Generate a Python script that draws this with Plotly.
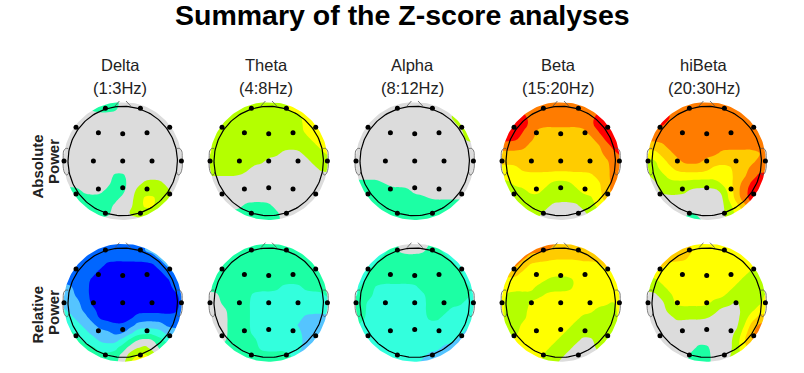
import math
import plotly.graph_objects as go

# Level index: 0 dark blue ... 5 grey (non significant) ... 10 red
level_colors = ["#0000ff", "#0066ff", "#55c4ff", "#33ffdd", "#1cffa4", "#dcdcdc",
                "#b4ff00", "#ffff00", "#ffcc00", "#ff7c00", "#ff0000"]
bands = ["Delta", "Theta", "Alpha", "Beta", "hiBeta"]
band_ranges = ["(1:3Hz)", "(4:8Hz)", "(8:12Hz)", "(15:20Hz)", "(20:30Hz)"]
row_names = [["Absolute", "Power"], ["Relative", "Power"]]
title_text = "Summary of the Z-score analyses"

grid_pos = [-60.0, -52.5, -45.0, -37.5, -30.0, -22.5, -15.0, -7.5, 0.0, 7.5, 15.0, 22.5, 30.0, 37.5, 45.0, 52.5, 60.0]

electrode_x = [-17.3, 17.7, -46.7, -24.3, 0, 24.3, 47, -58.7, -29.3, 0, 29.3, 58.7, -46.7, -24.3, 0, 24.3, 47, -17.3, 17.7]
electrode_y = [-52.7, -52.7, -33.7, -28.3, -27.3, -28.3, -33.7, 0, 0, 0, 0, 0, 33, 28, 26.7, 28, 33, 52.3, 52.3]

ear_x = [-54.5, -57, -59, -59.5, -59.5, -58, -56, -54.5, -54]
ear_y = [-12.5, -12.5, -10, -4, 6, 12, 14, 13, 11]
nose_left_x = [-7.7, -3.3]
nose_right_x = [8, 3.3]
nose_y = [-55, -60]

abs_delta = [
 [5,5,5,5,4,4,4,4,5,5,5,5,5,5,5,5,5],
 [5,5,5,5,4,4,4,4,5,5,5,5,5,5,5,5,5],
 [5,5,5,5,5,5,5,5,5,5,5,5,5,5,5,5,5],
 [5,5,5,5,5,5,5,5,5,5,5,5,5,5,5,5,5],
 [5,5,5,5,5,5,5,5,5,5,5,5,5,5,5,5,5],
 [5,5,5,5,5,5,5,5,5,5,5,5,5,5,5,5,5],
 [5,5,5,5,5,5,5,5,5,5,5,5,5,5,5,5,5],
 [5,5,5,5,5,5,5,5,5,5,5,5,5,5,5,5,5],
 [5,5,5,5,5,5,5,5,5,5,5,5,5,5,5,5,5],
 [5,5,5,5,5,5,5,5,5,5,5,5,5,5,5,5,5],
 [5,5,5,5,5,5,5,4,4,5,5,5,5,5,5,5,5],
 [5,5,5,5,5,5,5,4,4,5,5,6,6,6,5,5,5],
 [4,4,4,5,5,5,4,4,4,5,6,6,6,6,6,5,5],
 [4,4,4,4,4,4,4,4,5,5,6,7,7,6,6,5,5],
 [5,4,4,4,4,4,4,5,5,5,6,7,7,6,5,5,5],
 [5,5,5,5,4,4,4,5,5,6,6,6,6,5,5,5,5],
 [5,5,5,5,5,5,5,5,5,5,5,5,5,5,5,5,5],
]
abs_theta = [
 [6,6,6,6,6,6,6,6,6,6,6,7,7,7,7,7,7],
 [6,6,6,6,6,6,6,6,6,6,6,7,7,7,7,7,7],
 [6,6,6,6,6,6,6,6,6,6,6,6,6,7,7,7,7],
 [6,6,6,6,6,6,6,6,6,6,6,6,6,7,7,7,7],
 [6,6,6,6,6,6,6,6,6,6,6,6,6,7,7,7,7],
 [6,6,6,6,6,6,6,6,6,6,6,6,6,6,7,7,7],
 [7,6,6,6,6,6,6,6,6,6,6,6,6,6,6,7,7],
 [7,6,6,6,6,6,6,6,6,6,5,5,5,6,6,6,7],
 [6,6,6,6,6,6,6,6,5,5,5,5,5,5,6,6,6],
 [6,6,6,6,6,6,5,5,5,5,5,5,5,5,5,6,6],
 [5.5,5.5,5.5,5.5,5.5,5,5,5,5,5,5,5,5,5,5,5,5],
 [5,5,5,5,5,5,5,5,5,5,5,5,5,5,5,5,5],
 [5,5,5,5,5,5,5,5,5,5,5,5,5,5,5,5,5],
 [5,5,5,5,5,5,5,5,5,5,5,5,5,5,5,5,5],
 [5,5,5,5,5,4,4,4,4,5,5,5,5,5,5,5,5],
 [5,5,5,4,4,4,4,4,4,4,5,5,5,5,5,5,5],
 [5,5,5,4,4,4,4,4,4,4,5,5,5,5,5,5,5],
]
abs_alpha = [
 [5,5,5,5,5,5,5,5,5,5,5,5,5,5,5,5,5],
 [5,5,5,5,5,5,5,5,5,5,5,5,5,5,5,5,5],
 [5,5,5,5,5,5,5,5,5,5,5,5,5,6,6,6,5],
 [5,5,5,5,5,5,5,5,5,5,5,5,5,5,6,6,6],
 [5,5,5,5,5,5,5,5,5,5,5,5,5,5,5,6,6],
 [5,5,5,5,5,5,5,5,5,5,5,5,5,5,5,6,6],
 [5,5,5,5,5,5,5,5,5,5,5,5,5,5,5,5,5],
 [5,5,5,5,5,5,5,5,5,5,5,5,5,5,5,5,5],
 [5,5,5,5,5,5,5,5,5,5,5,5,5,5,5,5,5],
 [5,5,5,5,5,5,5,5,5,5,5,5,5,5,5,5,5],
 [5,5,5,5,5,5,5,5,5,5,5,5,5,5,5,5,5],
 [4,4,4,4,4.5,5,5,5,5,5,5,5,5,5,5,5,5],
 [4,4,4,4,4,4,4,4,5,5,5,5,5,5,5,5,5],
 [4,4,4,4,4,4,4,4,4,4,4.6,4.6,4.6,4.6,4.6,4.6,4.6],
 [4,4,4,4,4,4,4,4,4,4,4,4,4,4,4,4,4],
 [4,4,4,4,4,4,4,4,4,4,4,4,4,4,4,4,4],
 [4,4,4,4,4,4,4,4,4,4,4,4,4,4,4,4,4],
]
abs_beta = [
 [9,9,9,9,9,9,9,9,9,9,9,9,9,9,9,9,9],
 [9,9,9,9,9,9,9,9,9,9,9,9,9,9,9,9,9],
 [10,10,10,10,9,9,9,9,9,9,9,9,9,10,10,10,10],
 [10,10,10,10,9.5,9,9,9,9,9,9,9,9.5,10,10,10,10],
 [10,10,10,9.5,9,8,8,8,8,8,8,8,9,9.6,10,10,10],
 [10,10,10,9,9,8,8,8,8,8,8,8,8,9,10,10,10],
 [9,9,9,9,8,8,8,8,8,8,8,8,8,8,9,10,10],
 [8,8,8,8,8,8,8,8,8,8,8,8,8,8,9,9,10],
 [8,8,8,8,8,8,8,8,8,8,8,8,8,8,8,9,9],
 [7,7,7,8,8,8,8,8,8,8,8,8,8,8,8,9,9],
 [7,7,7,7,7,7,7,7,7,7,7,7,7,8,8,9,9],
 [6,6,7,7,7,7,7,6,6,6,7,7,7,7,8,9,9],
 [6,6,6,6,7,7,6,6,6,6,6,7,7,7,8,9,9],
 [6,6,6,6,6,6,6,6,6,6,6,6,6,7,8,9,9],
 [6,6,6,6,6,6,6,5,5,5,5,6,6,7,7,7,7],
 [6,6,6,6,6,6,5,5,5,5,5,5,6,6,6,6,6],
 [6,6,6,6,6,5,5,5,5,5,5,5,5,6,6,6,6],
]
abs_hibeta = [
 [9,9,9,9,9,9,9,9,9,9,9,9,9,9,9,9,9],
 [9,9,9,9,9,9,9,9,9,9,9,9,9,9,9,9,9],
 [10,10,10,10,9,9,9,9,9,9,9,9,9,9,9,9,9],
 [10,10,10,9,9,9,9,9,9,9,9,9,9,9,9,9,9],
 [9,9,9,9,9,9,9,9,9,9,9,9,9,9,9,9,9],
 [9,9,9,9,9,9,9,9,9,9,9,9,9,9,9,9,9],
 [8,8,8,9,9,9,9,9,9,9,9,9,9,9,9,9,9],
 [7,7,8,8,9,9,9,9,9,9,8,8,8,8,8,8,9],
 [6,6,7,8,8,9,9,9,8,8,8,8,8,8,8,9,9],
 [6,6,7,7,8,8,8,8,8,7,7,7,8,8,9,9,9],
 [5,6,6,7,7,7,7,7,7,7,7,7,8,8,9,10,10],
 [5,5,6,6,6,6,6,6,6,6,7,7,8,9,10,10,10],
 [5,5,6,6,6,6,5,5,5,5,5,7,8,9.4,10,10,10],
 [5,5,5,5,5,5,5,5,5,5,5,7,8,9.4,10,10,10],
 [5,5,5,5,5,5,5,5,5,5,5,6,7,8,10,10,10],
 [5,5,5,5,5,5,4,5,5,5,5,6,7,7,7,7,7],
 [5,5,5,5,5,4,4,4,5,5,5,6,6,7,7,7,7],
]
rel_delta = [
 [1,1,1,1,1,1,1,1,1,1,1,1,2,2,2,2,2],
 [1,1,1,1,1,1,1,1,1,1,1,2,2,2,2,2,2],
 [1,1,1,1,1,1,1,1,1,1,1,1,1,2,2,2,2],
 [1,1,1,1,1,1,0,0,0,0,0,0,0,1,2,2,2],
 [1,1,1,1,1,0,0,0,0,0,0,0,0,0,1,2,2],
 [1,1,1,1,0,0,0,0,0,0,0,0,0,0,0,1,2],
 [2,2,1,1,0,0,0,0,0,0,0,0,0,0,0,1,1],
 [2,2,1,1,0,0,0,0,0,0,0,0,0,0,0,0,1],
 [2,2,2,1,0,0,0,0,0,0,0,0,0,0,0,0,1],
 [3,2,2,1,1,0,0,0,0,0,0,0,0,0,0,0,1],
 [3,3,2,2,1,0,0,0,0,0,1,1,1,1,1,1,1],
 [4,3,3,2,2,1,1,0.6,0.6,1,2,2,2,2,1,1,1],
 [4,4,3,3,2,2,2,1,1,2,3,3,3,3,2,2,2],
 [4,4,4,3,3,2,2,2,3,4,5,5,5,4,3,3,3],
 [4,4,4,4,4,3,3,3,4,5,5,6,5,4,4,4,4],
 [4,4,4,4,4,4,4,4,5,6,7,7,6,5,4,4,4],
 [4,4,4,4,4,4,4,4,5,7,7,7,7,5,4,4,4],
]
rel_theta = [
 [4,4,4,4,4,4,4,4,4,4,4,4,4,4,4,4,4],
 [4,4,4,4,4,4,4,4,4,4,4,4,4,4,4,4,4],
 [4,4,4,4,4,4,4,4,4,4,4,4,4,4,4,4,4],
 [4,4,4,4,4,4,4,4,4,4,4,4,4,4,4,4,4],
 [4,4,4,4,4,4,4,4,4,4,4,4,4,4,4,4,4],
 [4,4,4,4,4,4,4,4,4,4,4,4,4,4,4,4,4],
 [4,4,4,4,4,4,4,4,4,4,3,3,3,4,4,4,4],
 [5,5,4,4,4,4,3,3,3,3,3,3,3,3,3,3,4],
 [5,5,4,4,4,4,3,3,3,3,3,3,3,3,3,3,3],
 [5,5,5,4,4,4,3,3,3,3,3,3,3,3,3,3,3],
 [5,5,5,4,4,4,3,3,3,3,3,3,3,2,2,2,2],
 [5,5,5,4,4,4,3,3,3,3,3,3,2,2,2,2,2],
 [5,5,5,4,4,4,3,3,3,3,3,3,3,2,2,2,2],
 [5,5,5,4,4,4,4,3,3,3,3,3,3,2,2,2,2],
 [4,4,4,4,4,4,4,3,3,3,3,3,3,2,2,2,2],
 [4,4,4,4,4,4,4,4,4,4,4,4,2,2,2,2,2],
 [4,4,4,4,4,4,4,4,4,4,4,4,2,2,2,2,2],
]
rel_alpha = [
 [3,3,3,3,3,3,5,5,5,5,5,3,3,3,3,3,3],
 [3,3,3,3,3,4,5,5,5,5,4,4,3,3,3,3,3],
 [3,3,3,3,4,4,4,4,4,4,4,4,4,3,3,3,3],
 [3,3,3,4,4,4,4,4,4,4,4,4,4,4,3,3,3],
 [3,3,4,4,4,4,4,4,4,4,4,4,4,4,4,3,3],
 [3,3,4,4,4,4,4,4,4,4,4,4,4,4,4,3,3],
 [3,4,4,3,3,3,3,3,3,4,4,4,4,4,4,4,3],
 [3,4,4,3,3,3,3,3,3,3,4,4,4,4,4,4,3],
 [4,4,3,3,3,3,3,3,3,3,4,4,4,4,4,3,3],
 [4,4,3,3,3,3,3,3,3,3,4,4,4,3,3,3,3],
 [4,4,3,3,3,3,3,3,3,3,4,4,3,3,3,3,3],
 [4,3,3,3,3,3,3,3,3,3,3,3,3,3,3,3,2],
 [3,3,3,3,3,3,3,3,3,3,3,3,3,3,3,2,2],
 [3,3,3,3,3,3,3,3,3,3,3,3,3,3,2,2,2],
 [3,3,3,3,3,3,3,3,3,3,3,3,2,2,2,2,2],
 [3,3,3,3,3,3,3,3,3,3,2,2,2,2,2,2,2],
 [3,3,3,3,3,3,3,3,3,2,2,2,2,2,2,2,2],
]
rel_beta = [
 [9,9,9,9,9,9,9,9,8,8,8,8,8,8,8,8,8],
 [9,9,9,9,9,9,9,8,8,8,8,8,8,8,8,8,8],
 [9,9,9,9,8,8,7.7,7.7,7.7,7.7,7.7,8,8,8,8,8,8],
 [9,9,9,8,7,7,7,7,7,7,7,7,7,7,8,8,8],
 [8,8,8,7,7,7,7,7,7,7,7,7,7,7,7,7,7],
 [7,7,7,7,7,7,6.5,6,6,6,6.5,7,7,7,7,7,7],
 [7,7,7,7,7,6,6,6,6,6,6.7,7,7,7,7,7,7],
 [7,6,6,6,6,6,6.7,7,7,7,7,7,7,7,7,7,7],
 [7,6,6,6,6.7,7,7,7,7,7,7,7,7,7,7,6,7],
 [7,6,6,6,7,7,7,7,7,7,7,7,7,6,6,6,7],
 [7,6,6,6,7,7,7,7,7,7,7,6,6,6,6,6,7],
 [7,6,6,7,7,7,7,7,7,7,6,6,6,6,6,6,7],
 [7,6,6,7,7,7,7,7,7,6,6,6,6,6,6,6,7],
 [7,7,7,7,7,7,7,7,6,6,6,5,5,6,6,6,7],
 [7,7,7,7,7,7,7,6,6,6,5,5,5,6,6,6,7],
 [7,7,7,7,7,7,6,6,6,5,5,5,5,5,6,6,7],
 [7,7,7,7,7,7,6,6,5,5,5,5,5,5,6,6,7],
]
rel_hibeta = [
 [8,8,8,8,8,8,7,7,7,7,7,7,7,7,7,7,7],
 [8,8,8,8,8,8,8,7,7,7,7,7,7,7,7,7,7],
 [8,8,8,8,8,8,7,7,7,7,7,7,7,7,7,7,7],
 [8,8,8,7,7,7,7,7,7,7,7,7,7,7,7,7,7],
 [7,7,7,7,7,7,7,7,7,7,7,7,7,7,6,6,6],
 [6,6,7,7,7,7,7,7,7,7,7,7,7,6,6,6,6],
 [6,6,6,7,7,7,7,7,7,7,7,7,6,6,6,6,6],
 [5,5,6,6,7,7,7,7,7,7,7,6,6,6,6,6,7],
 [5,5,5,6,7,7,7,7,7,6,6,6,5,6,6,6,7],
 [5,5,5,6,6,6,6,6,6,6,5,5,5,6,6,7,7],
 [5,5,5,5,6,5.7,5.7,5.7,5.7,5,5,5,5,6,7,8,8],
 [5,5,5,5,5,5,5,5,5,5,5,5,5,6.4,8,9,9],
 [5,5,5,5,5,5,5,5,5,5,5,5,5.5,7,8.5,9,9],
 [5,5,5,5,5,5,5,5,5,5,5,5,6,7.5,9,9,9],
 [5,5,5,5,5,5,5,4,4,5,5,5,6,7.5,8,8,8],
 [5,5,5,5,5,5,4,4,4,5,5,5,6,7,7,7,7],
 [5,5,5,5,5,5,4,4,4,5,5,6,7,7,7,7,7],
]

panels = [[abs_delta, abs_theta, abs_alpha, abs_beta, abs_hibeta],
          [rel_delta, rel_theta, rel_alpha, rel_beta, rel_hibeta]]
centers_x = [122.7, 268.7, 414.7, 560.7, 706.7]
centers_y = [161.0, 302.7]

W, H = 804, 373
HEAD_R, COLOR_R, HALF = 54.7, 59.0, 70.0
N = len(level_colors) - 1
colorscale = [[i / N, c] for i, c in enumerate(level_colors)]
angles = [2 * math.pi * i / 180 for i in range(181)]


def soften(grid):
    """Take the stair-steps off the hand-read level grid before contouring."""
    k = (1, 3, 1)
    n = len(grid)
    out = []
    for i in range(n):
        row = []
        for j in range(n):
            s = 0.0
            for di, a in zip((-1, 0, 1), k):
                for dj, b in zip((-1, 0, 1), k):
                    s += a * b * grid[min(max(i + di, 0), n - 1)][min(max(j + dj, 0), n - 1)]
            row.append(s / 25)
        out.append(row)
    return out


fig = go.Figure()
layout = dict(width=W, height=H, margin=dict(l=0, r=0, t=0, b=0), showlegend=False,
              paper_bgcolor="white", plot_bgcolor="rgba(0,0,0,0)",
              font=dict(family="Liberation Sans, Arial, sans-serif", color="#222222"))
annotations = []
idx = 0
S = 61
mask_x = [-S, -S, S, S, -S, 0] + [COLOR_R * math.sin(a) for a in angles] + [0]
mask_y = [-S, S, S, -S, -S, -COLOR_R] + [-COLOR_R * math.cos(a) for a in angles] + [-S]
for ri, row in enumerate(panels):
    for ci, z in enumerate(row):
        idx += 1
        sfx = "" if idx == 1 else str(idx)
        xa, ya = "x" + sfx, "y" + sfx
        cx, cy = centers_x[ci], centers_y[ri]
        axis = dict(visible=False, fixedrange=True)
        layout["xaxis" + sfx] = dict(axis, domain=[(cx - HALF) / W, (cx + HALF) / W], range=[-HALF, HALF], anchor=ya)
        layout["yaxis" + sfx] = dict(axis, domain=[1 - (cy + HALF) / H, 1 - (cy - HALF) / H], range=[HALF, -HALF], anchor=xa)
        fig.add_trace(go.Contour(x=grid_pos, y=grid_pos, z=soften(z), xaxis=xa, yaxis=ya, autocontour=False,
                                 contours=dict(start=0.5, end=9.5, size=1, coloring="fill", showlines=False),
                                 line=dict(width=0, smoothing=1.3), colorscale=colorscale, showscale=False, hoverinfo="skip"))
        fig.add_trace(go.Scatter(x=mask_x, y=mask_y, xaxis=xa, yaxis=ya, mode="lines", line=dict(width=0),
                                 fill="toself", fillcolor="white", hoverinfo="skip"))
        thin = dict(color="#555555", width=0.8)
        for sign in (1, -1):
            fig.add_trace(go.Scatter(x=[sign * v for v in ear_x], y=ear_y, xaxis=xa, yaxis=ya, mode="lines",
                                     line=dict(thin, shape="spline"), hoverinfo="skip"))
        for nx in (nose_left_x, nose_right_x):
            fig.add_trace(go.Scatter(x=nx, y=nose_y, xaxis=xa, yaxis=ya, mode="lines", line=thin, hoverinfo="skip"))
        fig.add_trace(go.Scatter(x=[HEAD_R * math.cos(a) for a in angles], y=[HEAD_R * math.sin(a) for a in angles],
                                 xaxis=xa, yaxis=ya, mode="lines", line=dict(color="black", width=1.2), hoverinfo="skip"))
        fig.add_trace(go.Scatter(x=electrode_x, y=electrode_y, xaxis=xa, yaxis=ya, mode="markers",
                                 marker=dict(color="black", size=5), hoverinfo="skip"))

def label(text, px, py, size, angle=0):
    annotations.append(dict(text=text, x=px / W, y=1 - py / H, xref="paper", yref="paper", showarrow=False,
                            font=dict(size=size), textangle=angle, xanchor="center", yanchor="middle"))

annotations.append(dict(text="<b>" + title_text + "</b>", x=402.5 / W, y=1 - 15 / H, xref="paper", yref="paper",
                        showarrow=False, font=dict(size=28.5, color="black"), xanchor="center", yanchor="middle"))
for ci, (b, rng) in enumerate(zip(bands, band_ranges)):
    label(b, centers_x[ci] - 2.5, 65, 16.5)
    label(rng, centers_x[ci] - 2.5, 88, 16.5)
for ri, names in enumerate(row_names):
    offs = [167, 162] if ri == 0 else [315, 313]
    label("<b>" + names[0] + "</b>", 36.5, offs[0], 15, -90)
    label("<b>" + names[1] + "</b>", 53, offs[1], 15, -90)
layout["annotations"] = annotations
fig.update_layout(**layout)
fig.write_html("out.html", config={"displayModeBar": False, "staticPlot": True},
               post_script="document.body.style.margin='0';document.body.style.overflow='hidden';")
